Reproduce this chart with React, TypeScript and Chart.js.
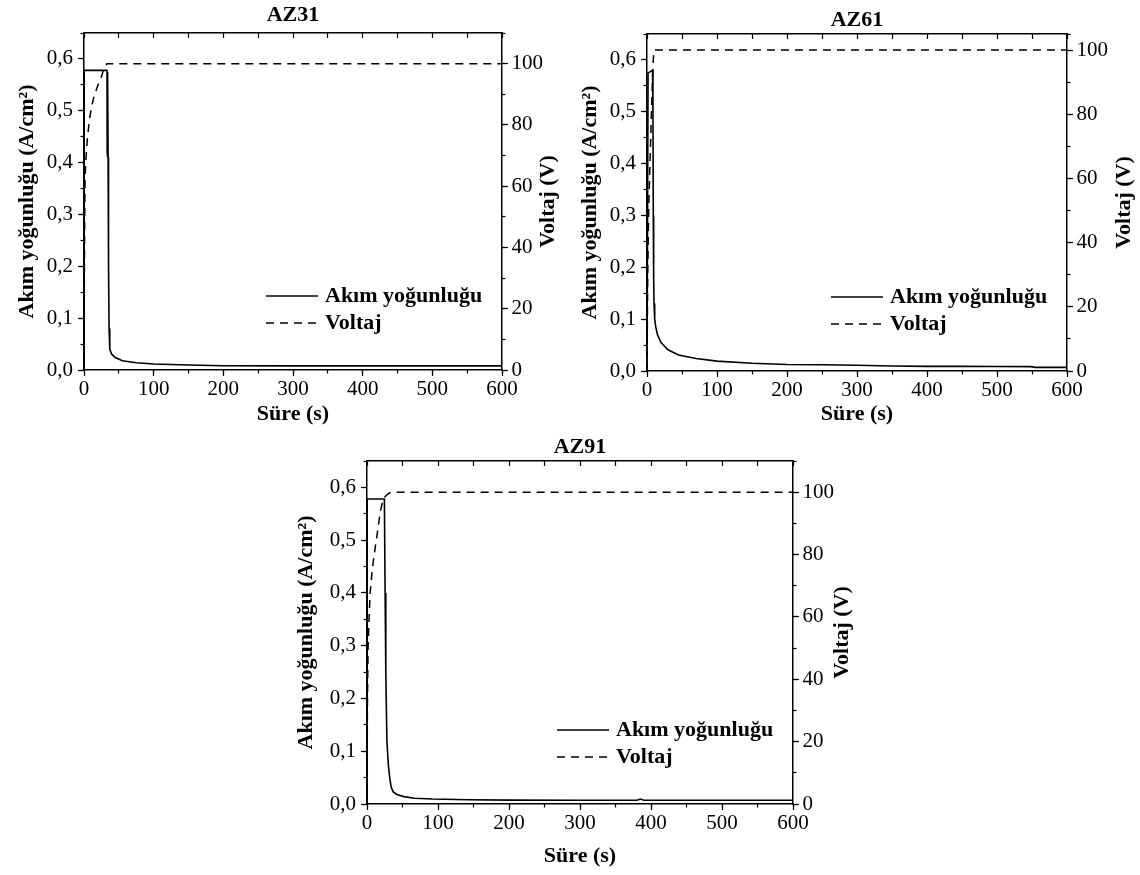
import React, { useEffect, useRef } from 'react';
import { Chart, registerables } from 'chart.js';

Chart.register(...registerables);

const FONT = "'Liberation Serif', 'Times New Roman', serif";

// ---------- data ----------
const xTicksLabel = 'Süre (s)';
const yLeftLabel = 'Akım yoğunluğu (A/cm²)';
const yRightLabel = 'Voltaj (V)';
const seriesNames = ['Akım yoğunluğu', 'Voltaj'];

// AZ31
const az31CurrentTime = [0, 0.3, 33, 33.3, 33.6, 33.9, 34.2, 34.6, 35.2, 36, 37, 40, 45, 55, 75, 100, 150, 200, 300, 400, 500, 600];
const az31Current = [0, 0.578, 0.578, 0.42, 0.575, 0.41, 0.57, 0.41, 0.2, 0.08, 0.04, 0.03, 0.024, 0.018, 0.014, 0.0115, 0.0095, 0.0082, 0.008, 0.008, 0.008, 0.008];
const az31VoltTime = [0, 0.5, 1, 1.5, 2.5, 5, 8, 11, 14, 17, 20, 24, 28, 31, 33, 600];
const az31Voltage = [0, 30, 50, 62, 68, 76, 82, 86, 89, 91, 93, 95, 98, 99.5, 100, 100];

// AZ61
const az61CurrentTime = [0, 1.5, 8, 8.5, 9, 9.5, 10, 11, 12.5, 15, 20, 30, 45, 70, 100, 150, 200, 250, 300, 350, 400, 450, 500, 548, 555, 600];
const az61Current = [0, 0.575, 0.58, 0.5, 0.3, 0.18, 0.13, 0.1, 0.085, 0.07, 0.055, 0.041, 0.031, 0.024, 0.019, 0.015, 0.0125, 0.012, 0.011, 0.0095, 0.009, 0.009, 0.0088, 0.0085, 0.007, 0.007];
const az61VoltTime = [0, 1, 2, 3, 4, 5, 6, 7, 8, 9, 10, 600];
const az61Voltage = [0, 30, 45, 55, 63, 70, 78, 85, 92, 97, 100, 100];

// AZ91
const az91CurrentTime = [0, 0.3, 24.5, 25.5, 26.5, 28, 30, 32, 34, 37, 42, 52, 67, 92, 142, 200, 300, 380, 385, 390, 450, 600];
const az91Current = [0, 0.578, 0.578, 0.4, 0.25, 0.12, 0.075, 0.05, 0.032, 0.023, 0.018, 0.014, 0.011, 0.0095, 0.008, 0.0073, 0.007, 0.007, 0.0095, 0.007, 0.007, 0.007];
const az91VoltTime = [0, 0.5, 1.5, 3, 4.5, 7, 9, 12, 14, 17, 19, 22, 25, 30, 34, 600];
const az91Voltage = [0, 30, 50, 60, 68, 74, 78, 83, 86, 91, 94, 97, 98.5, 99.5, 100, 100];

// axis ranges
const timeMax = 600;
const currentMax = 0.65;
const az31VoltMax = 110;
const az61VoltMax = 105;
const az91VoltMax = 110;

// ---------- layout (positions only) ----------
type Layout = {
  cx: number; cy: number; cw: number; ch: number;
  leftW: number; rightW: number; bottomH: number;
  titlePadTop: number; titlePadBottom: number;
  yTitlePad: number; xTitlePad: number; rightTitleOffset: number;
};

const layouts: Record<string, Layout> = {
  AZ31: { cx: 0, cy: 0, cw: 570, ch: 440, leftW: 84, rightW: 68, bottomH: 70, titlePadTop: 1.8, titlePadBottom: 4.8, yTitlePad: 13.8, xTitlePad: 12.8, rightTitleOffset: 46 },
  AZ61: { cx: 565, cy: 0, cw: 575, ch: 440, leftW: 82, rightW: 73, bottomH: 69, titlePadTop: 7.3, titlePadBottom: 0.3, yTitlePad: 11.8, xTitlePad: 12.8, rightTitleOffset: 57 },
  AZ91: { cx: 280, cy: 430, cw: 580, ch: 445, leftW: 87, rightW: 67, bottomH: 71, titlePadTop: 4.3, titlePadBottom: 0.3, yTitlePad: 12.8, xTitlePad: 5.8, rightTitleOffset: 49 },
};

const zip = (xs: number[], ys: number[]) => xs.map((x, i) => ({ x, y: ys[i] }));

// ---------- plugins ----------
const rightTitlePlugin = {
  id: 'rightTitle',
  afterDraw(chart: any, _args: any, opts: any) {
    if (!opts || !opts.text) return;
    const { ctx, chartArea } = chart;
    ctx.save();
    ctx.font = `bold 22px ${FONT}`;
    ctx.fillStyle = '#000';
    ctx.textAlign = 'center';
    ctx.textBaseline = 'middle';
    ctx.translate(chartArea.right + opts.offset, (chartArea.top + chartArea.bottom) / 2);
    ctx.rotate(-Math.PI / 2);
    ctx.fillText(opts.text, 0, 0);
    ctx.restore();
  },
};

const innerLegendPlugin = {
  id: 'innerLegend',
  afterDatasetsDraw(chart: any, _args: any, opts: any) {
    if (!opts || !opts.rows) return;
    const { ctx, chartArea } = chart;
    chart.data.datasets.forEach((ds: any, i: number) => {
      const y = chartArea.bottom - opts.rows[i];
      ctx.save();
      ctx.strokeStyle = ds.borderColor;
      ctx.lineWidth = ds.borderWidth;
      ctx.setLineDash(ds.borderDash || []);
      ctx.beginPath();
      ctx.moveTo(chartArea.right - opts.lineStart, y);
      ctx.lineTo(chartArea.right - opts.lineEnd, y);
      ctx.stroke();
      ctx.setLineDash([]);
      ctx.font = `bold 22px ${FONT}`;
      ctx.fillStyle = '#000';
      ctx.textAlign = 'left';
      ctx.textBaseline = 'middle';
      ctx.fillText(ds.label, chartArea.right - opts.textStart, y);
      ctx.restore();
    });
  },
};

Chart.register(rightTitlePlugin as any, innerLegendPlugin as any);

// ---------- config ----------
type Panel = {
  title: string;
  curT: number[]; cur: number[];
  volT: number[]; vol: number[];
  vMax: number;
  layout: Layout;
};

function buildConfig(p: Panel): any {
  const L = p.layout;
  const tickFont = { family: FONT, size: 21, lineHeight: 1 };
  const titleFont = { family: FONT, size: 22, weight: 'bold' as const };
  const minorGrid = { drawOnChartArea: false, tickLength: 3.5, tickColor: '#000', tickWidth: 1.2 };
  const majorGrid = { drawOnChartArea: false, tickLength: 6, tickColor: '#000', tickWidth: 1.2 };
  const spine = { color: '#000', width: 1.5 };

  return {
    type: 'scatter',
    data: {
      datasets: [
        {
          label: seriesNames[0],
          data: zip(p.curT, p.cur),
          xAxisID: 'x', yAxisID: 'y',
          showLine: true, borderColor: '#000', backgroundColor: '#000',
          borderWidth: 1.6, pointRadius: 0, tension: 0, fill: false,
        },
        {
          label: seriesNames[1],
          data: zip(p.volT, p.vol),
          xAxisID: 'x', yAxisID: 'yR',
          showLine: true, borderColor: '#000', backgroundColor: '#000',
          borderWidth: 1.5, borderDash: [8, 6], pointRadius: 0, tension: 0, fill: false,
        },
      ],
    },
    options: {
      responsive: false,
      animation: false,
      events: [],
      layout: { padding: 0 },
      plugins: {
        legend: { display: false },
        tooltip: { enabled: false },
        title: {
          display: true, text: p.title, fullSize: false, color: '#000',
          font: { family: FONT, size: 22, weight: 'bold' },
          padding: { top: L.titlePadTop, bottom: L.titlePadBottom },
        },
        rightTitle: { text: yRightLabel, offset: L.rightTitleOffset },
        innerLegend: { rows: [74, 47], lineStart: 236, lineEnd: 184, textStart: 177 },
      },
      scales: {
        x: {
          type: 'linear', position: 'bottom', weight: 1, min: 0, max: timeMax,
          ticks: { stepSize: 100, font: tickFont, color: '#000', padding: 2.5, maxRotation: 0, autoSkip: false },
          grid: majorGrid, border: spine,
          title: { display: true, text: xTicksLabel, color: '#000', font: titleFont, padding: { top: 0, bottom: L.xTitlePad } },
          afterFit: (s: any) => { s.height = L.bottomH; },
        },
        xMinor: {
          type: 'linear', position: 'bottom', weight: 0, min: 0, max: timeMax,
          ticks: { stepSize: 50, display: false },
          grid: minorGrid, border: { display: false },
          afterFit: (s: any) => { s.height = 0; },
        },
        xTop: {
          type: 'linear', position: 'top', weight: 0, min: 0, max: timeMax,
          ticks: { stepSize: 50, display: false },
          grid: { drawOnChartArea: false, tickLength: -5, tickColor: '#000', tickWidth: 1.2 },
          border: spine,
          afterFit: (s: any) => { s.height = 0; },
        },
        y: {
          type: 'linear', position: 'left', weight: 1, min: 0, max: currentMax,
          ticks: {
            stepSize: 0.1, includeBounds: false, font: tickFont, color: '#000', padding: 5,
            callback: (v: any) => Number(v).toFixed(1).replace('.', ','),
          },
          grid: majorGrid, border: spine,
          title: { display: true, text: yLeftLabel, color: '#000', font: titleFont, padding: { top: L.yTitlePad, bottom: 0 } },
          afterFit: (s: any) => { s.width = L.leftW; },
        },
        yMinor: {
          type: 'linear', position: 'left', weight: 0, min: 0, max: currentMax,
          ticks: { stepSize: 0.05, display: false },
          grid: minorGrid, border: { display: false },
          afterFit: (s: any) => { s.width = 0; },
        },
        yR: {
          type: 'linear', position: 'right', weight: 1, min: 0, max: p.vMax,
          ticks: { stepSize: 20, includeBounds: false, font: tickFont, color: '#000', padding: 3.5 },
          grid: majorGrid, border: spine,
          afterFit: (s: any) => { s.width = L.rightW; },
        },
        yRMinor: {
          type: 'linear', position: 'right', weight: 0, min: 0, max: p.vMax,
          ticks: { stepSize: 10, display: false },
          grid: minorGrid, border: { display: false },
          afterFit: (s: any) => { s.width = 0; },
        },
      },
    },
  };
}

const panels: Panel[] = [
  { title: 'AZ31', curT: az31CurrentTime, cur: az31Current, volT: az31VoltTime, vol: az31Voltage, vMax: az31VoltMax, layout: layouts.AZ31 },
  { title: 'AZ61', curT: az61CurrentTime, cur: az61Current, volT: az61VoltTime, vol: az61Voltage, vMax: az61VoltMax, layout: layouts.AZ61 },
  { title: 'AZ91', curT: az91CurrentTime, cur: az91Current, volT: az91VoltTime, vol: az91Voltage, vMax: az91VoltMax, layout: layouts.AZ91 },
];

function ChartPanel({ panel }: { panel: Panel }) {
  const ref = useRef<HTMLCanvasElement>(null);
  useEffect(() => {
    if (!ref.current) return;
    const chart = new Chart(ref.current, buildConfig(panel));
    return () => chart.destroy();
  }, [panel]);
  const L = panel.layout;
  return (
    <canvas
      ref={ref}
      width={L.cw}
      height={L.ch}
      style={{ position: 'absolute', left: L.cx, top: L.cy, width: L.cw, height: L.ch }}
    />
  );
}

export default function App() {
  return (
    <div style={{ position: 'absolute', left: 0, top: 0, width: 1140, height: 875, background: '#fff', overflow: 'hidden' }}>
      {panels.map((p) => (
        <ChartPanel key={p.title} panel={p} />
      ))}
    </div>
  );
}
